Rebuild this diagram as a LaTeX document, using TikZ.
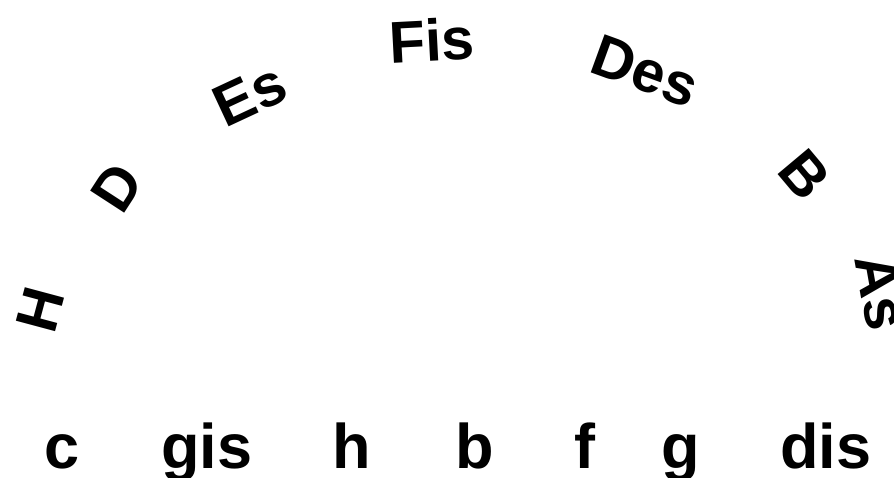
\documentclass[tikz,border=0pt]{standalone}
\usepackage{fontspec}
\setmainfont{Liberation Sans}
\usetikzlibrary{positioning}
\tikzset{tn/.style={font=\bfseries\fontsize{59}{64}\selectfont, inner sep=0pt},
  bn/.style={font=\bfseries\fontsize{63}{66}\selectfont, inner sep=0pt, anchor=base}}

\begin{document}
\begin{tikzpicture}[x=1pt,y=1pt]
  \useasboundingbox (0,0) rectangle (894,-478);
  \clip (0,0) rectangle (894,-478);
  \foreach \nm/\px/\py/\ang in {H/40/310/75, D/117/188/57, Es/250/95/25, Fis/432/40/3, Des/645/71/-20, B/805/175/-50, As/881/292/-80}
    {\node[tn, rotate=\ang] (t\nm) at (\px,-\py) {\nm};}
  \foreach \nm/\px in {c/62, gis/207, h/352, b/475, f/585, g/681, dis/826}
    {\node[bn] (k\nm) at (\px,-468) {\nm};}
\end{tikzpicture}
\end{document}
